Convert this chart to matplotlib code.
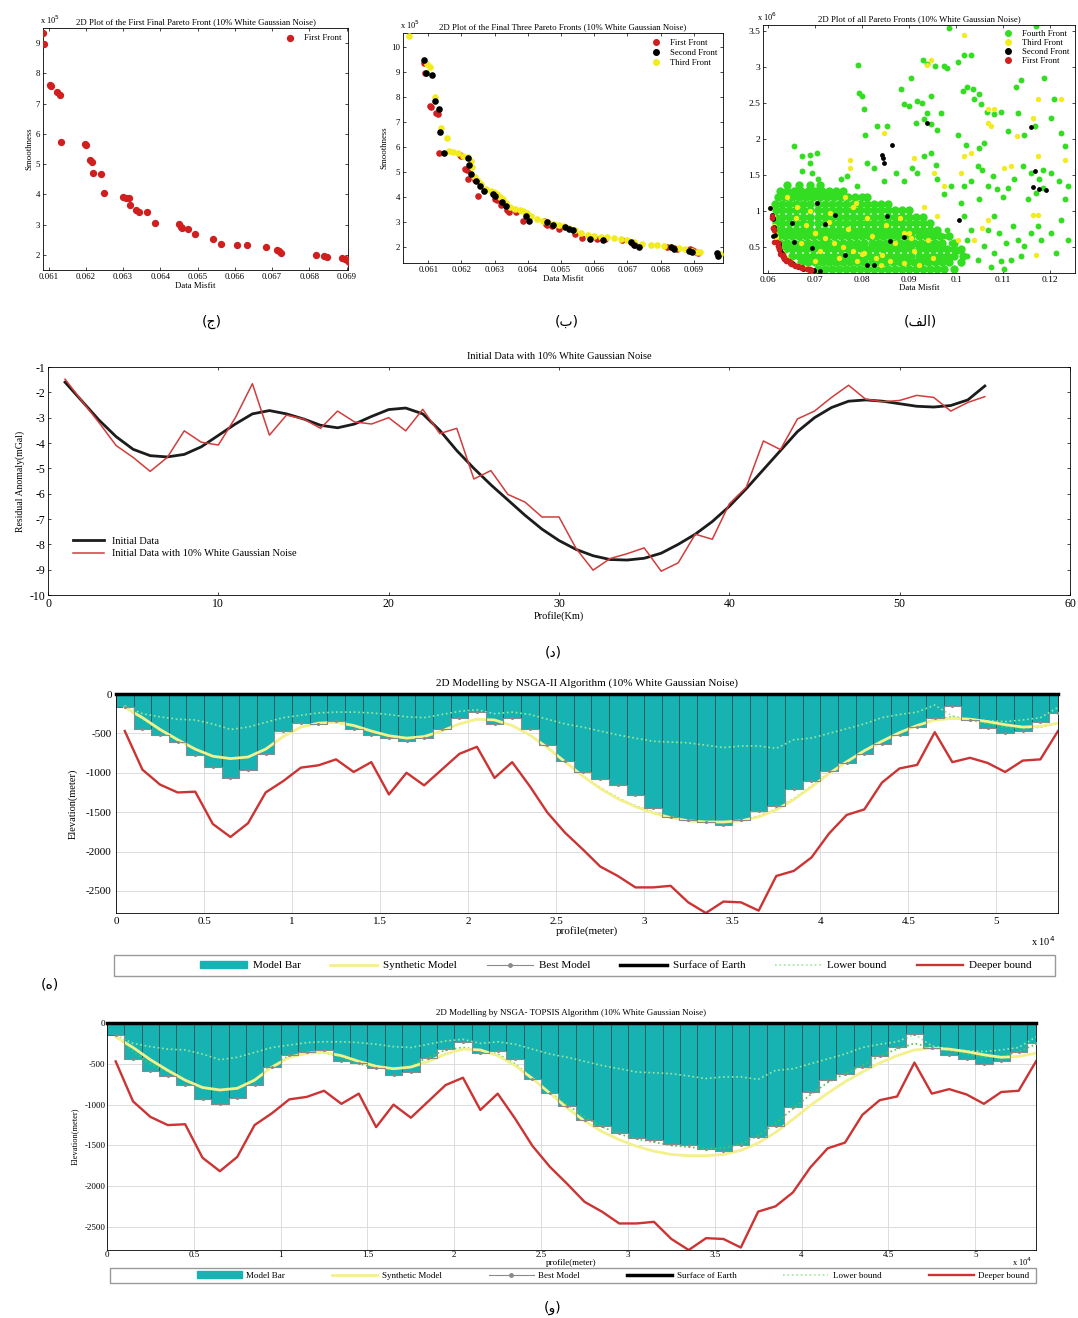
import matplotlib
matplotlib.use("Agg")
import matplotlib.pyplot as plt
from matplotlib.patches import Patch, Rectangle
from matplotlib.lines import Line2D
import numpy as np

plt.rcParams['font.family'] = ['Liberation Serif', 'DejaVu Sans']
plt.rcParams['xtick.direction'] = 'in'
plt.rcParams['ytick.direction'] = 'in'
plt.rcParams['xtick.top'] = True
plt.rcParams['ytick.right'] = True
plt.rcParams['axes.linewidth'] = 0.6
plt.rcParams['xtick.major.size'] = 2.5
plt.rcParams['ytick.major.size'] = 2.5
plt.rcParams['xtick.major.width'] = 0.5
plt.rcParams['ytick.major.width'] = 0.5
plt.rcParams['axes.unicode_minus'] = False

# ---------------- pareto fronts (data misfit / smoothness) ----------------
# first front, smoothness in units of 1e5
f1_x = [0.06086, 0.06089, 0.06105, 0.06107, 0.06123, 0.0613, 0.06133, 0.06197, 0.062, 0.0621,
        0.06216, 0.0622, 0.0624, 0.0625, 0.063, 0.06307, 0.06315, 0.06319, 0.06336, 0.06342,
        0.06365, 0.06386, 0.0645, 0.06455, 0.06457, 0.06474, 0.06494, 0.06542, 0.06563, 0.06607,
        0.06633, 0.06684, 0.06714, 0.0672, 0.06724, 0.06819, 0.06839, 0.06848, 0.06888, 0.06895,
        0.069, 0.06907, 0.06912]
f1_y = [9.35, 8.97, 7.63, 7.58, 7.37, 7.3, 5.74, 5.66, 5.63, 5.12,
        5.08, 4.7, 4.67, 4.03, 3.92, 3.89, 3.87, 3.66, 3.48, 3.41,
        3.41, 3.05, 3.02, 2.92, 2.88, 2.84, 2.7, 2.51, 2.37, 2.32,
        2.31, 2.26, 2.17, 2.13, 2.06, 2.0, 1.95, 1.93, 1.91, 1.86,
        1.83, 1.78, 1.75]

# second front (1e5)
f2_x = [0.06088, 0.06093, 0.06111, 0.06121, 0.06133, 0.06136, 0.06148, 0.06220, 0.06222, 0.06228,
        0.06245, 0.06255, 0.06268, 0.06295, 0.06302, 0.06322, 0.06335, 0.06395, 0.06405, 0.06458,
        0.06475, 0.06512, 0.06525, 0.06535, 0.06586, 0.06628, 0.06712, 0.06720, 0.06735, 0.06832,
        0.06840, 0.06885, 0.06895, 0.06970, 0.06972]
f2_y = [9.47, 8.96, 8.87, 7.84, 7.52, 6.61, 5.76, 5.57, 5.28, 4.90,
        4.65, 4.42, 4.22, 4.12, 4.02, 3.78, 3.62, 3.25, 3.05, 2.99,
        2.88, 2.78, 2.70, 2.66, 2.33, 2.27, 2.20, 2.08, 2.01, 1.98,
        1.92, 1.85, 1.78, 1.75, 1.62]

# third front (1e5)
f3_x = [0.06042, 0.06095, 0.06105, 0.06120, 0.06138, 0.06158, 0.06162, 0.06175, 0.06190, 0.06205,
        0.06220, 0.06228, 0.06232, 0.06240, 0.06250, 0.06260, 0.06275, 0.06288, 0.06298, 0.06308,
        0.06315, 0.06325, 0.06335, 0.06345, 0.06360, 0.06375, 0.06385, 0.06398, 0.06410, 0.06428,
        0.06445, 0.06460, 0.06478, 0.06495, 0.06510, 0.06525, 0.06542, 0.06560, 0.06580, 0.06600,
        0.06620, 0.06640, 0.06660, 0.06680, 0.06700, 0.06720, 0.06745, 0.06770, 0.06790, 0.06810,
        0.06830, 0.06855, 0.06875, 0.06895, 0.06910, 0.06920, 0.06980]
f3_y = [10.45, 9.3, 9.2, 7.98, 6.75, 6.35, 5.85, 5.8, 5.75, 5.65,
        5.6, 5.45, 5.2, 4.8, 4.65, 4.5, 4.3, 4.25, 4.18, 4.1,
        4.0, 3.9, 3.75, 3.6, 3.5, 3.48, 3.42, 3.35, 3.22, 3.1,
        3.05, 2.98, 2.93, 2.88, 2.82, 2.74, 2.68, 2.55, 2.48, 2.45,
        2.4, 2.38, 2.35, 2.3, 2.28, 2.18, 2.12, 2.08, 2.06, 2.02,
        1.98, 1.95, 1.92, 1.85, 1.8, 1.78, 1.7]

# extra points of all fronts (smoothness in 1e6)
f2_extra_x = [0.0603, 0.0611, 0.0710, 0.0843, 0.0845, 0.0846, 0.0864, 0.0743, 0.0853, 0.0860,
              0.0889, 0.1006, 0.1159, 0.1167, 0.1163, 0.1177, 0.1191, 0.0651, 0.0654, 0.0693,
              0.0704, 0.0811, 0.0825, 0.0939, 0.0720, 0.0764]
f2_extra_y = [1.04, 0.66, 0.17, 1.78, 1.74, 1.67, 1.91, 0.94, 0.93, 0.59,
              0.64, 0.87, 2.16, 1.56, 1.33, 1.31, 1.29, 0.84, 0.57, 0.49,
              1.11, 0.25, 0.25, 2.22, 0.82, 0.39]

f3_extra_x = [0.1016, 0.0946, 0.0939, 0.0846, 0.0774, 0.0774, 0.1067, 0.1081, 0.1067, 0.1074,
              0.1174, 0.1163, 0.1174, 0.1130, 0.1163, 0.1174, 0.1170, 0.1017, 0.1010, 0.1031,
              0.0910, 0.0932, 0.0953, 0.0960, 0.0786, 0.0764, 0.0732, 0.0889, 0.0903, 0.1067,
              0.1038, 0.1056, 0.1003, 0.1102, 0.1117, 0.0974, 0.0843, 0.0804, 0.0700, 0.0661,
              0.1223, 0.1231,
              0.066, 0.068, 0.070, 0.072, 0.074, 0.076, 0.078, 0.080, 0.083, 0.086,
              0.089, 0.092, 0.071, 0.075, 0.079, 0.084, 0.069, 0.073, 0.077, 0.082,
              0.087, 0.091, 0.095, 0.064, 0.081, 0.085, 0.090, 0.094, 0.067, 0.070,
              0.088, 0.078]
f3_extra_y = [3.44, 3.10, 3.03, 2.08, 1.60, 1.71, 2.42, 2.42, 2.22, 2.18,
              2.55, 2.29, 1.76, 2.04, 0.95, 0.95, 0.39, 1.76, 1.53, 1.81,
              1.74, 1.06, 1.53, 0.93, 1.11, 1.20, 0.97, 0.69, 0.63, 0.88,
              0.60, 0.76, 0.60, 1.60, 1.62, 1.34, 0.39, 0.42, 0.69, 1.06,
              2.55, 1.71,
              0.90, 0.80, 0.70, 0.62, 0.55, 0.50, 0.45, 0.40, 0.35, 0.30,
              0.28, 0.25, 0.45, 0.35, 0.30, 0.25, 1.00, 0.85, 0.75, 0.65,
              0.55, 0.45, 0.35, 1.20, 0.90, 0.80, 0.70, 0.60, 0.55, 0.30,
              0.90, 1.05]

# fourth front, scattered points (1e6)
f4_x = [0.0985, 0.1170, 0.0791, 0.0930, 0.0937, 0.0903, 0.0954, 0.0974, 0.0981, 0.1003,
        0.1017, 0.1031, 0.1014, 0.1024, 0.1035, 0.1049, 0.1038, 0.1053, 0.1065, 0.1127,
        0.1138, 0.1188, 0.0793, 0.0800, 0.0804, 0.0807, 0.0832, 0.0853, 0.0882, 0.0889,
        0.0900, 0.0917, 0.0928, 0.0946, 0.0939, 0.0914, 0.0932, 0.0946, 0.0960, 0.0967,
        0.1003, 0.1021, 0.1049, 0.1060, 0.1081, 0.1095, 0.1110, 0.1131, 0.1145, 0.1167,
        0.1202, 0.1223, 0.1231, 0.1209, 0.0654, 0.0672, 0.0688, 0.0704, 0.0690, 0.0693,
        0.0672, 0.0707, 0.0754, 0.0768, 0.0789, 0.0811, 0.0825, 0.0871, 0.0846, 0.0889,
        0.0907, 0.0917, 0.0932, 0.0946, 0.0957, 0.0960, 0.0974, 0.0989, 0.1010, 0.1017,
        0.1031, 0.1046, 0.1056, 0.1067, 0.1078, 0.1088, 0.1099, 0.1110, 0.1124, 0.1142,
        0.1159, 0.1177, 0.1184, 0.1152, 0.1170, 0.1184, 0.1202, 0.1220, 0.1231, 0.1238,
        0.1017, 0.1031, 0.1049, 0.1067, 0.1081, 0.1092, 0.1106, 0.1120, 0.1131, 0.1145,
        0.1159, 0.1174, 0.1181, 0.1081, 0.1095, 0.1117, 0.1138, 0.1060, 0.1046, 0.1024,
        0.1003, 0.0989, 0.0981, 0.0974, 0.1024, 0.1010, 0.1074, 0.1102, 0.1202, 0.1223,
        0.1238, 0.1213]
f4_y = [3.54, 3.56, 3.02, 3.09, 3.04, 2.84, 3.01, 3.01, 2.99, 3.06,
        3.17, 3.17, 2.66, 2.72, 2.69, 2.62, 2.55, 2.48, 2.38, 2.72,
        2.82, 2.84, 2.64, 2.59, 2.41, 2.05, 2.18, 2.18, 2.69, 2.48,
        2.45, 2.52, 2.50, 2.59, 2.36, 2.22, 2.27, 2.20, 2.13, 2.36,
        2.06, 1.92, 1.88, 1.94, 2.34, 2.38, 2.11, 2.36, 2.06, 2.18,
        2.29, 2.08, 1.90, 2.55, 1.90, 1.76, 1.78, 1.81, 1.67, 1.53,
        1.55, 1.44, 1.44, 1.48, 1.34, 1.67, 1.60, 1.53, 1.41, 1.41,
        1.60, 1.53, 1.76, 1.81, 1.64, 1.44, 1.23, 1.34, 1.11, 1.34,
        1.41, 1.62, 1.57, 1.34, 1.48, 1.30, 1.20, 1.32, 1.44, 1.62,
        1.53, 1.44, 1.57, 1.16, 1.25, 1.32, 1.53, 1.41, 1.16, 1.34,
        0.93, 0.74, 1.16, 0.74, 0.93, 0.69, 0.56, 0.79, 0.60, 0.51,
        0.69, 0.79, 0.60, 0.42, 0.30, 0.32, 0.37, 0.51, 0.32, 0.37,
        0.44, 0.56, 0.74, 0.65, 0.60, 0.28, 0.23, 0.19, 0.69, 0.88,
        0.60, 0.42]

# fourth front, dense cloud: smoothness level (1e6) -> data misfit values (1e-3)
f4_rows = {
    0.20: [70.5, 72, 73.5, 75, 76.5, 78, 79.5, 81, 82.5, 84, 85.5, 87, 88.5, 90, 91.5, 93, 94.5, 96, 97.5, 99.5],
    0.29: [67, 68.5, 70, 71.5, 73, 74.5, 76, 77.5, 79, 80.5, 82, 83.5, 85, 86.5, 88, 89.5, 91, 92.5, 94, 95.5,
           97, 98.5, 101],
    0.38: [65, 66.5, 68, 69.5, 71, 72.5, 74, 75.5, 77, 78.5, 80, 81.5, 83, 84.5, 86, 87.5, 89, 90.5, 92, 93.5,
           95, 96.5, 98, 99.5, 101.5],
    0.47: [63.5, 65, 66.5, 68, 69.5, 71, 72.5, 74, 75.5, 77, 78.5, 80, 81.5, 83, 84.5, 86, 87.5, 89, 90.5, 92,
           93.5, 95, 96.5, 98, 99.5, 101],
    0.56: [62.5, 64, 65.5, 67, 68.5, 70, 71.5, 73, 74.5, 76, 77.5, 79, 80.5, 82, 83.5, 85, 86.5, 88, 89.5, 91,
           92.5, 94, 95.5, 97, 99.5],
    0.65: [62, 63.5, 65, 66.5, 68, 69.5, 71, 72.5, 74, 75.5, 77, 78.5, 80, 81.5, 83, 84.5, 86, 87.5, 89, 90.5,
           92, 93.5, 95, 96.5, 98.5],
    0.74: [61.8, 63, 64.5, 66, 67.5, 69, 70.5, 72, 73.5, 75, 76.5, 78, 79.5, 81, 82.5, 84, 85.5, 87, 88.5, 90,
           91.5, 93, 94.5, 96],
    0.83: [61.6, 63, 64.5, 66, 67.5, 69, 70.5, 72, 73.5, 75, 76.5, 78, 79.5, 81, 82.5, 84, 85.5, 87, 88.5, 90,
           91.5, 93, 94.5],
    0.92: [61.5, 63, 64.5, 66, 67.5, 69, 70.5, 72, 73.5, 75, 76.5, 78, 79.5, 81, 82.5, 84, 85.5, 87, 88.5, 90,
           91.5, 93],
    1.01: [61.7, 63, 64.5, 66, 67.5, 69, 70.5, 72, 73.5, 75, 76.5, 78, 79.5, 81, 82.5, 84, 85.5, 87, 88.5, 90],
    1.10: [61.5, 63, 64.5, 66, 67.5, 69, 70.5, 72, 73.5, 75, 76.5, 78, 79.5, 81, 82.5, 84, 85.5],
    1.19: [62, 63.5, 65, 66.5, 68, 69.5, 71, 72.5, 74, 75.5, 77, 78.5, 80, 81],
    1.28: [62.5, 64, 65.5, 67, 68.5, 70, 71.5, 73, 74.5, 76],
    1.36: [64, 66.5, 69, 71],
}

# ---------------- initial gravity data ----------------
profile_km = np.arange(1, 56)
initial_data = [-1.6, -2.35, -3.1, -3.75, -4.25, -4.5, -4.55, -4.45, -4.15, -3.7,
                -3.25, -2.85, -2.72, -2.85, -3.05, -3.3, -3.4, -3.25, -2.95, -2.68,
                -2.62, -2.85, -3.5, -4.3, -5.0, -5.65, -6.25, -6.85, -7.4, -7.85,
                -8.2, -8.45, -8.6, -8.62, -8.55, -8.35, -8.0, -7.6, -7.1, -6.5,
                -5.8, -5.05, -4.3, -3.55, -3.0, -2.6, -2.35, -2.3, -2.35, -2.45,
                -2.55, -2.58, -2.52, -2.3, -1.75]
noisy_data = [-1.48, -2.35, -3.2, -4.1, -4.57, -5.12, -4.57, -3.52, -3.97, -4.08,
              -3.0, -1.66, -3.69, -2.9, -3.05, -3.42, -2.74, -3.17, -3.25, -3.0,
              -3.52, -2.67, -3.63, -3.42, -5.42, -5.09, -6.03, -6.33, -6.92, -6.92,
              -8.16, -9.02, -8.56, -8.37, -8.14, -9.06, -8.73, -7.6, -7.8, -6.4,
              -5.74, -3.92, -4.26, -3.05, -2.74, -2.2, -1.72, -2.27, -2.37, -2.32,
              -2.12, -2.2, -2.74, -2.4, -2.17]

# ---------------- 2D models (depth in meters, prisms of 1000 m) ----------------
prism_x = np.arange(500, 54000, 1000)
nsga_best = [-170, -440, -520, -610, -780, -930, -1060, -960, -760, -470,
             -370, -380, -340, -450, -520, -560, -600, -560, -450, -300,
             -230, -380, -300, -450, -650, -850, -990, -1080, -1150, -1280,
             -1450, -1560, -1600, -1630, -1660, -1600, -1480, -1420, -1200, -1100,
             -980, -880, -760, -640, -520, -420, -300, -150, -330, -430,
             -490, -470, -360, -240]
topsis_best = [-150, -440, -585, -645, -760, -935, -990, -915, -760, -540,
               -390, -355, -325, -460, -490, -550, -640, -605, -430, -315,
               -230, -365, -345, -440, -680, -860, -1020, -1190, -1260, -1345,
               -1405, -1430, -1480, -1500, -1540, -1570, -1490, -1395, -1265, -1030,
               -845, -695, -625, -540, -405, -290, -140, -310, -390, -445,
               -500, -470, -355, -250]
synthetic = [-170, -300, -450, -580, -700, -790, -820, -800, -700, -540,
             -420, -370, -360, -400, -470, -530, -560, -540, -470, -380,
             -320, -330, -400, -520, -680, -860, -1040, -1200, -1330, -1430,
             -1510, -1570, -1610, -1625, -1625, -1610, -1560, -1470, -1340, -1180,
             -1010, -860, -720, -600, -490, -400, -330, -310, -320, -350,
             -390, -420, -410, -370]
lower_bound = [-150, -250, -290, -320, -330, -380, -450, -420, -360, -300,
               -270, -240, -230, -230, -240, -260, -290, -300, -260, -220,
               -200, -250, -230, -260, -320, -380, -420, -470, -520, -560,
               -600, -610, -620, -650, -680, -660, -660, -690, -580, -560,
               -500, -440, -380, -300, -260, -230, -140, -280, -320, -340,
               -350, -330, -300, -170]
deeper_bound = [-470, -960, -1150, -1250, -1240, -1650, -1815, -1640, -1250, -1105,
                -935, -905, -830, -990, -865, -1275, -1000, -1160, -960, -760,
                -670, -1065, -865, -1170, -1505, -1760, -1970, -2190, -2310, -2455,
                -2455, -2435, -2645, -2780, -2635, -2645, -2750, -2310, -2245, -2075,
                -1770, -1535, -1465, -1125, -945, -900, -485, -865, -810, -875,
                -990, -845, -830, -470]
nsga_fit = [-170, -320, -470, -590, -700, -790, -825, -800, -700, -540,
            -420, -370, -360, -410, -480, -540, -570, -545, -470, -380,
            -320, -335, -400, -520, -680, -860, -1040, -1190, -1320, -1420,
            -1500, -1560, -1600, -1620, -1630, -1610, -1550, -1460, -1330, -1170,
            -1000, -860, -720, -600, -490, -400, -320, -290, -330, -380,
            -420, -440, -420, -370]
topsis_fit = [-150, -350, -500, -600, -700, -800, -830, -790, -680, -520,
              -400, -350, -360, -420, -500, -550, -560, -520, -420, -330,
              -300, -330, -380, -500, -680, -850, -1000, -1150, -1270, -1360,
              -1420, -1460, -1500, -1520, -1540, -1530, -1480, -1380, -1230, -1050,
              -880, -730, -620, -520, -400, -320, -250, -300, -340, -380,
              -420, -410, -350, -260]
surface_x = [0, 53500]
surface_y = [0, 0]

W, H = 1078, 1318
fig = plt.figure(figsize=(W / 100, H / 100), dpi=100)


def box(l, t, r, b):
    return [l / W, 1 - b / H, (r - l) / W, (b - t) / H]


RED = '#CF1F1F'
YEL = '#F2EC1C'
GRN = '#33DD22'
fs = 6.3

# ---- (ج) first front ----
ax = fig.add_axes(box(43, 28, 348, 270))
ax.scatter(f1_x, f1_y, s=18, color=RED, label='First Front', zorder=3)
ax.set_xlim(0.06085, 0.06904)
ax.set_ylim(1.5, 9.5)
ax.set_xticks([0.061, 0.062, 0.063, 0.064, 0.065, 0.066, 0.067, 0.068, 0.069])
ax.set_xticklabels(['0.061', '0.062', '0.063', '0.064', '0.065', '0.066', '0.067', '0.068', '0.069'])
ax.set_yticks([2, 3, 4, 5, 6, 7, 8, 9])
ax.tick_params(labelsize=fs, pad=2)
ax.set_xlabel('Data Misfit', fontsize=fs, labelpad=1)
ax.set_ylabel('Smoothness', fontsize=fs, labelpad=2)
ax.set_title('2D Plot of the First Final Pareto Front (10% White Gaussian Noise)', fontsize=fs, pad=3)
ax.text(-0.01, 1.01, 'x 10$^5$', transform=ax.transAxes, fontsize=6, ha='left', va='bottom')
ax.legend(loc='upper right', frameon=False, fontsize=fs, handletextpad=0.6, borderaxespad=0.3)

# ---- (ب) three fronts ----
ax = fig.add_axes(box(403, 33, 723, 263))
ax.scatter(f1_x, f1_y, s=14, color=RED, zorder=2)
ax.scatter(f3_x, f3_y, s=14, color=YEL, zorder=3)
ax.scatter(f2_x, f2_y, s=14, color='k', zorder=4)
ax.set_xlim(0.06024, 0.06988)
ax.set_ylim(1.35, 10.56)
ax.set_xticks([0.061, 0.062, 0.063, 0.064, 0.065, 0.066, 0.067, 0.068, 0.069])
ax.set_xticklabels(['0.061', '0.062', '0.063', '0.064', '0.065', '0.066', '0.067', '0.068', '0.069'])
ax.set_yticks([2, 3, 4, 5, 6, 7, 8, 9, 10])
ax.tick_params(labelsize=fs, pad=2)
ax.set_xlabel('Data Misfit', fontsize=fs, labelpad=1)
ax.set_ylabel('Smoothness', fontsize=fs, labelpad=2)
ax.set_title('2D Plot of the Final Three Pareto Fronts (10% White Gaussian Noise)', fontsize=fs, pad=3)
ax.text(-0.01, 1.01, 'x 10$^5$', transform=ax.transAxes, fontsize=6, ha='left', va='bottom')
hs = [Line2D([], [], ls='', marker='o', ms=4, color=c) for c in (RED, 'k', YEL)]
ax.legend(hs, ['First Front', 'Second Front', 'Third Front'], loc='upper right', frameon=False,
          fontsize=fs, handletextpad=0.6, borderaxespad=0.3, labelspacing=0.2)

# ---- (الف) all fronts ----
dense_x = []
dense_y = []
for lvl, xs in f4_rows.items():
    for v in xs:
        dense_x.append(v / 1000)
        dense_y.append(lvl)
ax = fig.add_axes(box(763, 25, 1075, 273))
ax.scatter(dense_x, dense_y, s=36, color=GRN, zorder=2, linewidths=0)
ax.scatter(f4_x, f4_y, s=18, color=GRN, zorder=2, linewidths=0)
ax.scatter(f3_x + f3_extra_x, list(np.array(f3_y) / 10) + f3_extra_y, s=15, color=YEL, zorder=3, linewidths=0)
ax.scatter(f2_x + f2_extra_x, list(np.array(f2_y) / 10) + f2_extra_y, s=12, color='k', zorder=4, linewidths=0)
ax.scatter(f1_x, np.array(f1_y) / 10, s=16, color=RED, zorder=5, linewidths=0)
ax.set_xlim(0.0589, 0.1253)
ax.set_ylim(0.14, 3.58)
ax.set_xticks([0.06, 0.07, 0.08, 0.09, 0.1, 0.11, 0.12])
ax.set_xticklabels(['0.06', '0.07', '0.08', '0.09', '0.1', '0.11', '0.12'])
ax.set_yticks([0.5, 1, 1.5, 2, 2.5, 3, 3.5])
ax.set_yticklabels(['0.5', '1', '1.5', '2', '2.5', '3', '3.5'])
ax.tick_params(labelsize=fs + 0.5, pad=2)
ax.set_xlabel('Data Misfit', fontsize=fs, labelpad=0)
ax.set_title('2D Plot of all Pareto Fronts (10% White Gaussian Noise)', fontsize=fs, pad=3)
ax.text(-0.02, 1.01, 'x 10$^6$', transform=ax.transAxes, fontsize=6, ha='left', va='bottom')
hs = [Line2D([], [], ls='', marker='o', ms=4, color=c) for c in (GRN, YEL, 'k', RED)]
ax.legend(hs, ['Fourth Front', 'Third Front', 'Second Front', 'First Front'], loc='upper right',
          frameon=False, fontsize=fs, handletextpad=0.6, borderaxespad=0.2, labelspacing=0.1)

# ---- (د) initial data ----
ax = fig.add_axes(box(48, 367, 1070, 595))
ax.plot(profile_km, initial_data, color='#1c1c1c', lw=2, label='Initial Data')
ax.plot(profile_km, noisy_data, color='#D23C3C', lw=1.1, label='Initial Data with 10% White Gaussian Noise')
ax.set_xlim(0, 60)
ax.set_ylim(-10, -1)
ax.set_xticks([0, 10, 20, 30, 40, 50, 60])
ax.set_yticks([-10, -9, -8, -7, -6, -5, -4, -3, -2, -1])
ax.tick_params(labelsize=8.5, pad=2)
ax.set_xlabel('Profile(Km)', fontsize=7.5, labelpad=1)
ax.set_ylabel('Residual Anomaly(mGal)', fontsize=7, labelpad=3)
ax.set_title('Initial Data with 10% White Gaussian Noise', fontsize=7.5, pad=6)
ax.legend(loc='lower left', bbox_to_anchor=(0.015, 0.12), frameon=False, fontsize=7.5,
          handlelength=3, labelspacing=0.3)

# ---- (ه) and (و) models ----
TEAL = '#17B3B3'


def model_panel(rect, best, fit, title, fsz, leg_rect, leg_cx, x10_pos, ylab_pad, tpad, hlen, cspace):
    ax = fig.add_axes(box(*rect))
    ax.set_axisbelow(True)
    ax.grid(color='#dcdcdc', lw=0.7)
    ax.bar(prism_x, best, width=1000, color=TEAL, edgecolor='#2b4a4a', linewidth=0.5, zorder=2)
    ax.plot(prism_x, lower_bound, color='#9BE89B', lw=1.2, ls=':', zorder=3)
    ax.plot(prism_x, fit, color='#4CC94C', lw=1.2, ls=':', zorder=3)
    ax.plot(prism_x, synthetic, color='#F4F08C', lw=2, zorder=3)
    ax.plot(prism_x, best, color='#8a8a8a', lw=0.8, drawstyle='steps-mid', marker='.', ms=2.5, zorder=4)
    ax.plot(prism_x, deeper_bound, color='#CC3333', lw=1.7, zorder=4)
    ax.plot(surface_x, surface_y, color='k', lw=2.5, zorder=5, clip_on=False)
    ax.set_xlim(0, 53500)
    ax.set_ylim(-2780, 0)
    ax.set_xticks([0, 5000, 10000, 15000, 20000, 25000, 30000, 35000, 40000, 45000, 50000])
    ax.set_xticklabels(['0', '0.5', '1', '1.5', '2', '2.5', '3', '3.5', '4', '4.5', '5'])
    ax.set_yticks([-2500, -2000, -1500, -1000, -500, 0])
    ax.tick_params(labelsize=fsz, pad=tpad, length=0)
    ax.set_xlabel('profile(meter)', fontsize=fsz, labelpad=0)
    ax.set_ylabel('Elevation(meter)', fontsize=fsz - 0.5, labelpad=ylab_pad)
    ax.set_title(title, fontsize=fsz, pad=6)
    fig.text(x10_pos[0] / W, 1 - x10_pos[1] / H, 'x 10$^4$', fontsize=fsz - 0.5, ha='center', va='center')
    l, t, r, b = leg_rect
    fig.patches.append(Rectangle((l / W, 1 - b / H), (r - l) / W, (b - t) / H, transform=fig.transFigure,
                                 fill=False, edgecolor='#999999', lw=1))
    hs = [Patch(facecolor=TEAL, edgecolor=TEAL),
          Line2D([], [], color='#F4F08C', lw=2),
          Line2D([], [], color='#8a8a8a', lw=0.8, marker='.', ms=5),
          Line2D([], [], color='k', lw=2.5),
          Line2D([], [], color='#9BE89B', lw=1.2, ls=':'),
          Line2D([], [], color='#CC3333', lw=1.7)]
    names = ['Model Bar', 'Synthetic Model', 'Best Model', 'Surface of Earth', 'Lower bound', 'Deeper bound']
    fig.legend(hs, names, loc='center', bbox_to_anchor=(leg_cx / W, 1 - (t + b) / 2 / H), ncol=6,
               frameon=False, fontsize=fsz, handlelength=hlen, columnspacing=cspace, handletextpad=0.5)


model_panel((116, 694, 1058, 913), nsga_best, nsga_fit,
            '2D Modelling by NSGA-II Algorithm (10% White Gaussian Noise)', 8,
            (114, 955, 1055, 976), 616, (1043, 941), 6, 3, 4.2, 2.7)
model_panel((107, 1023, 1036, 1250), topsis_best, topsis_fit,
            '2D Modelling by NSGA- TOPSIS Algorithm (10% White Gaussian Noise)', 6.5,
            (110, 1268, 1036, 1283), 613, (1022, 1262), 4, 1, 5, 5.2)

# ---- captions ----
caps = [(212, 322, '(ج)'), (567, 322, '(ب)'), (920, 322, '(\ufed2\ufedf\ufe8d)'),
        (553, 652, '(د)'), (50, 985, '(ه)'), (553, 1308, '(و)')]
for cx, cy, s in caps:
    fig.text(cx / W, 1 - cy / H, s, fontsize=10, ha='center', va='center', family=['DejaVu Sans'])

fig.savefig('out.png', dpi=100)
